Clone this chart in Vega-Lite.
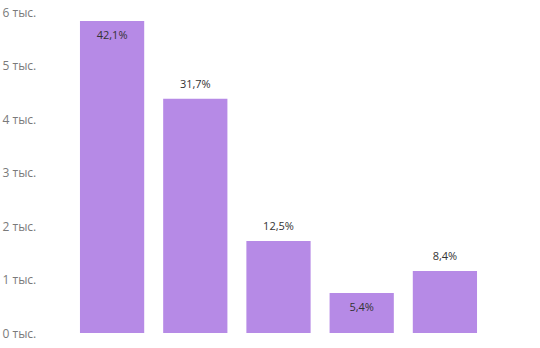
{
  "$schema": "https://vega.github.io/schema/vega-lite/v6.json",
  "autosize": "none",
  "padding": {"left": 62, "top": 12, "right": 0, "bottom": 15},
  "width": 433,
  "height": 321,
  "background": "white",
  "config": {"view": {"stroke": null}, "font": "Open Sans"},
  "data": {"values": [
    {"cat": "1", "value": 5830, "label": "42,1%"},
    {"cat": "2", "value": 4380, "label": "31,7%"},
    {"cat": "3", "value": 1720, "label": "12,5%"},
    {"cat": "4", "value": 750, "label": "5,4%"},
    {"cat": "5", "value": 1160, "label": "8,4%"}
  ]},
  "encoding": {
    "x": {"field": "cat", "type": "nominal", "sort": null,
      "scale": {"paddingInner": 0.228, "paddingOuter": 0.216},
      "axis": null},
    "y": {"field": "value", "type": "quantitative",
      "scale": {"domain": [0, 6000], "nice": false},
      "axis": {"values": [0, 1000, 2000, 3000, 4000, 5000, 6000],
        "labelExpr": "datum.value / 1000 + ' тыс.'",
        "title": null, "domain": false, "ticks": false, "tickSize": 0, "grid": false,
        "labelAlign": "left", "labelBaseline": "middle", "labelPadding": 60,
        "labelColor": "#7a7a7a", "labelFontSize": 12, "labelFont": "Open Sans"}}
  },
  "layer": [
    {"mark": {"type": "bar", "color": "#b68ae6"}},
    {"transform": [{"filter": "indexof(['1','4'], datum.cat) < 0"}],
     "mark": {"type": "text", "dy": -14, "baseline": "middle", "fontSize": 11, "color": "#333333", "font": "Open Sans"},
     "encoding": {"text": {"field": "label"}}},
    {"transform": [{"filter": "indexof(['1','4'], datum.cat) >= 0"}],
     "mark": {"type": "text", "dy": 15, "baseline": "middle", "fontSize": 11, "color": "#333333", "font": "Open Sans"},
     "encoding": {"text": {"field": "label"}}}
  ]
}
